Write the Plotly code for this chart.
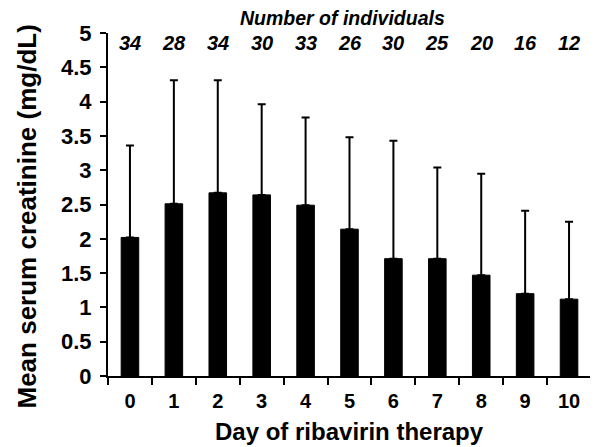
import plotly.graph_objects as go

days = ["0", "1", "2", "3", "4", "5", "6", "7", "8", "9", "10"]
mean_creatinine = [2.02, 2.51, 2.67, 2.64, 2.49, 2.14, 1.71, 1.71, 1.47, 1.20, 1.12]
upper_sd = [1.34, 1.80, 1.64, 1.32, 1.28, 1.34, 1.72, 1.33, 1.48, 1.21, 1.13]
n_individuals = [34, 28, 34, 30, 33, 26, 30, 25, 20, 16, 12]

FONT = "Liberation Sans, Arial, sans-serif"

fig = go.Figure()
fig.add_trace(go.Bar(
    x=days,
    y=mean_creatinine,
    width=0.4,
    marker=dict(color="black", line=dict(color="black", width=1)),
    error_y=dict(type="data", array=upper_sd, symmetric=False,
                 arrayminus=[0] * len(days), color="black",
                 thickness=2, width=4),
))

# sample sizes across the top
for d, n in zip(days, n_individuals):
    fig.add_annotation(x=d, y=1.0, xref="x", yref="paper", yanchor="middle",
                       yshift=-10, text=f"<b><i>{n}</i></b>", showarrow=False,
                       font=dict(size=20, family=FONT, color="black"))

fig.add_annotation(x=0.485, y=1.0, xref="paper", yref="paper", yanchor="middle",
                   yshift=15, borderpad=0, text="<b><i>Number of individuals</i></b>",
                   showarrow=False, font=dict(size=19.5, family=FONT, color="black"))

# axis titles as annotations for exact placement
fig.add_annotation(x=0.0, y=0.5, xref="paper", yref="paper", xanchor="center",
                   yanchor="middle", xshift=-82, yshift=-12, textangle=-90,
                   text="<b>Mean serum creatinine (mg/dL)</b>", showarrow=False,
                   font=dict(size=26, family=FONT, color="black"))
fig.add_annotation(x=0.5, y=0.0, xref="paper", yref="paper", xanchor="center",
                   yanchor="middle", yshift=-55, xshift=0,
                   text="<b>Day of ribavirin therapy</b>", showarrow=False,
                   font=dict(size=24, family=FONT, color="black"))

fig.update_layout(
    width=590, height=439,
    margin=dict(l=100, r=7, t=25, b=71),
    plot_bgcolor="white", paper_bgcolor="white",
    showlegend=False,
    font=dict(family=FONT, color="black", size=18),
    xaxis=dict(
        type="category", tickson="boundaries", ticks="outside", ticklen=7,
        tickwidth=2, tickcolor="black", showline=True, linewidth=2,
        linecolor="black", showgrid=False, automargin=False,
        ticklabelstandoff=6,
        tickfont=dict(size=20, family=FONT),
        tickprefix="<b>", ticksuffix="</b>",
    ),
    yaxis=dict(
        range=[0, 5], dtick=0.5, ticks="outside", ticklen=6, tickwidth=2,
        tickcolor="black", showline=True, linewidth=2, linecolor="black",
        showgrid=False, zeroline=False, automargin=False,
        ticklabelstandoff=4,
        tickfont=dict(size=22, family=FONT),
        tickprefix="<b>", ticksuffix="</b>",
    ),
)

fig.write_html("out.html")
